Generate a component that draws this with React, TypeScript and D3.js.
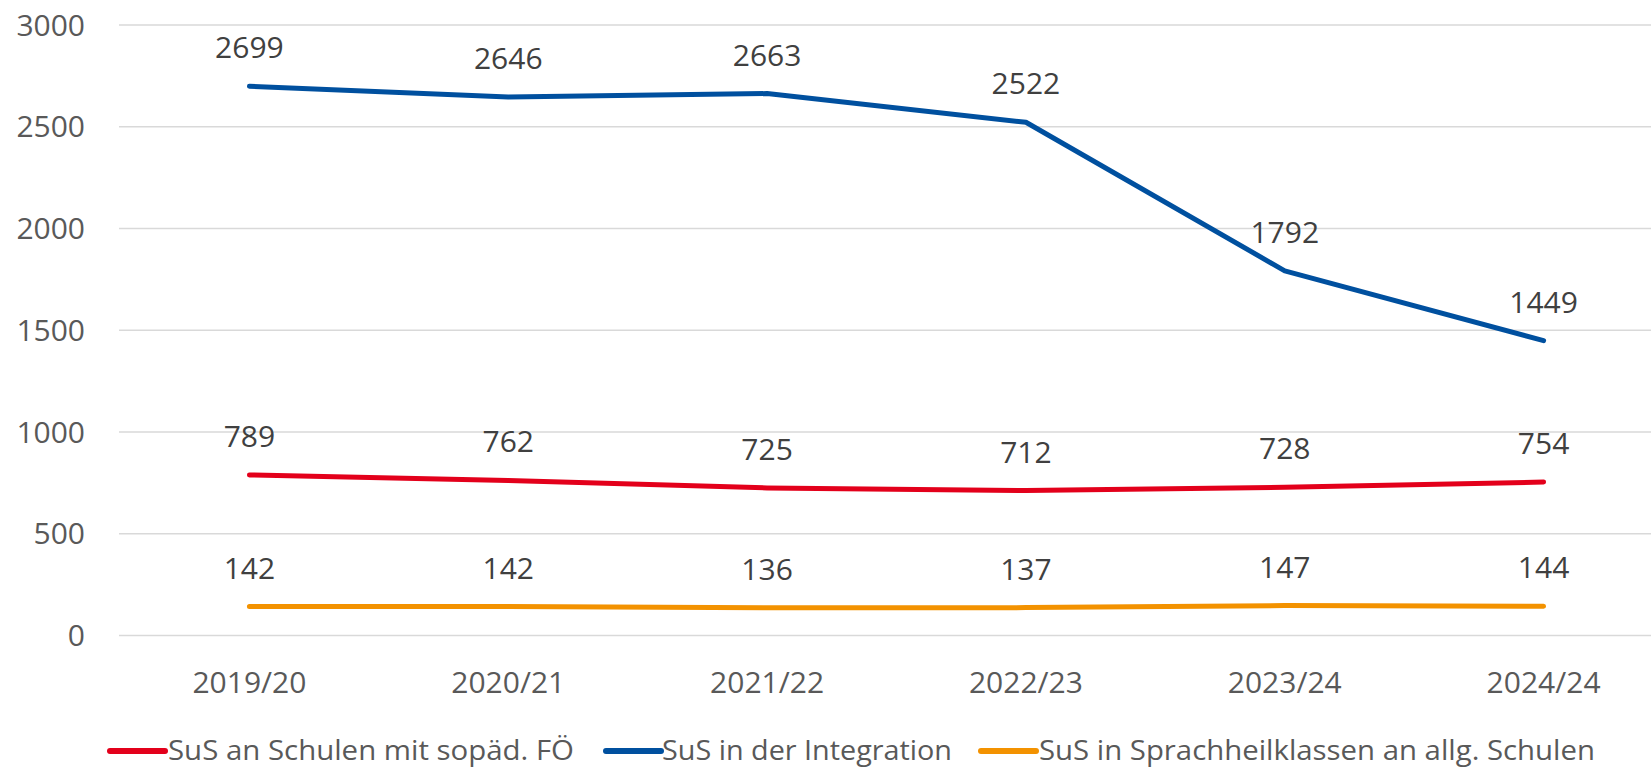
import React from "react";
import * as d3 from "d3";

const categories = ["2019/20", "2020/21", "2021/22", "2022/23", "2023/24", "2024/24"];
const seriesNames = [
  "SuS an Schulen mit sopäd. FÖ",
  "SuS in der Integration",
  "SuS in Sprachheilklassen an allg. Schulen",
];
const redValues = [789, 762, 725, 712, 728, 754];
const blueValues = [2699, 2646, 2663, 2522, 1792, 1449];
const orangeValues = [142, 142, 136, 137, 147, 144];
const yTicks = [0, 500, 1000, 1500, 2000, 2500, 3000];
const colors = ["#E3001B", "#00509F", "#F39200"];

const W = 1651;
const H = 768;

export default function App() {
  const x = d3.scaleBand<string>().domain(categories).range([120, 1673]);
  const y = d3.scaleLinear().domain([0, 3000]).range([635.5, 25]);
  const cx = (c: string) => (x(c) as number) + x.bandwidth() / 2;
  const line = d3
    .line<number>()
    .x((_, i) => cx(categories[i]))
    .y((d) => y(d));
  const series = [redValues, blueValues, orangeValues];
  const font = "'Open Sans', 'Noto Sans', sans-serif";
  const legendItems = [
    { lx: 110, tx: 168, w: 406 },
    { lx: 606, tx: 662, w: 290 },
    { lx: 981, tx: 1039, w: 556 },
  ];
  return (
    <svg
      width={W}
      height={H}
      style={{ position: "absolute", left: 0, top: 0, background: "#fff" }}
    >
      {yTicks.map((t) => (
        <g key={t}>
          <line x1={119} x2={1651} y1={y(t)} y2={y(t)} stroke="#d9d9d9" strokeWidth={1.5} />
          <text
            x={85}
            y={y(t) + 10.5}
            textAnchor="end"
            fontFamily={font}
            fontSize={30}
            fill="#595959"
          >
            {t}
          </text>
        </g>
      ))}
      {categories.map((c) => (
        <text
          key={c}
          x={cx(c)}
          y={693}
          textAnchor="middle"
          fontFamily={font}
          fontSize={30}
          fill="#595959"
        >
          {c}
        </text>
      ))}
      {series.map((vals, si) => (
        <g key={si}>
          <path
            d={line(vals) as string}
            fill="none"
            stroke={colors[si]}
            strokeWidth={5}
            strokeLinecap="round"
            strokeLinejoin="round"
          />
          {vals.map((v, i) => (
            <text
              key={i}
              x={cx(categories[i])}
              y={y(v) - 28}
              textAnchor="middle"
              fontFamily={font}
              fontSize={30}
              fill="#404040"
            >
              {v}
            </text>
          ))}
        </g>
      ))}
      {legendItems.map((l, i) => (
        <g key={i}>
          <line
            x1={l.lx}
            x2={l.lx + 55}
            y1={751}
            y2={751}
            stroke={colors[i]}
            strokeWidth={6}
            strokeLinecap="round"
          />
          <text
            x={l.tx}
            y={760}
            fontFamily={font}
            fontSize={28}
            fill="#595959"
            textLength={l.w}
            lengthAdjust="spacingAndGlyphs"
          >
            {seriesNames[i]}
          </text>
        </g>
      ))}
    </svg>
  );
}
